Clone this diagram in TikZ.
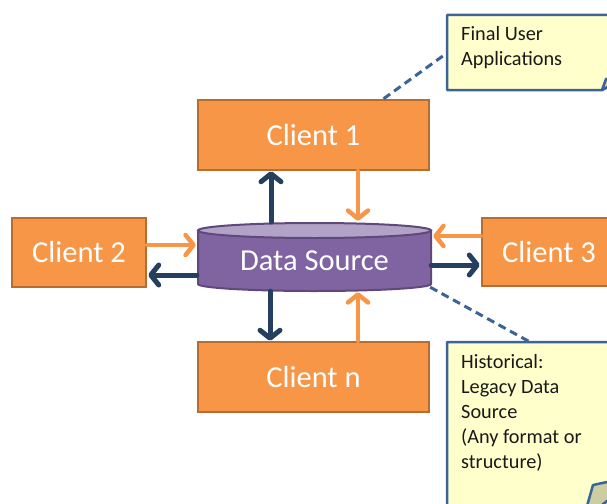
\documentclass[tikz,border=0pt]{standalone}
\usepackage{fontspec}
\setmainfont{Carlito}
\usetikzlibrary{arrows.meta,calc}
\definecolor{orng}{HTML}{F79646}
\definecolor{orngdk}{HTML}{B66D31}
\definecolor{navy}{HTML}{243F60}
\definecolor{purp}{HTML}{8064A2}
\definecolor{purplt}{HTML}{B3A2C7}
\definecolor{purpdk}{HTML}{5F497A}
\definecolor{notefill}{HTML}{FFFFCC}
\definecolor{noteline}{HTML}{3B6498}
\definecolor{foldfill}{HTML}{CDCDA4}
\begin{document}
\begin{tikzpicture}[x=1pt,y=-1pt,
  client/.style={draw=orngdk, fill=orng, line width=2.5pt, text=white,
    font=\fontsize{30.5}{36}\selectfont, inner sep=0pt},
  arrnavy/.style={draw=navy, line width=5pt, line cap=round,
    -{Straight Barb[length=8pt,width=20pt,round]}},
  arrorng/.style={draw=orng, line width=4.5pt, line cap=round,
    -{Straight Barb[length=8pt,width=20pt,round]}},
  note/.style={fill=notefill, draw=noteline, line width=2.5pt, line join=round},
  foldpart/.style={fill=foldfill, draw=noteline, line width=2.5pt, line join=round},
  notetext/.style={font=\fontsize{20.3}{25}\selectfont, align=left,
    anchor=north west, inner sep=0pt, text=black!90},
  link/.style={draw=noteline, line width=3pt, dash pattern=on 8pt off 5pt}]
\useasboundingbox (0,0) rectangle (607,503);
\clip (0,0) rectangle (607,503);
\fill[white] (0,0) rectangle (607,503);

% clients
\node[client, minimum width=231pt, minimum height=70pt] (c1) at (313.5,135) {Client 1};
\node[client, minimum width=134pt, minimum height=69pt] (c2) at (79,252.5) {Client 2};
\node[client, minimum width=134pt, minimum height=68pt] (c3) at (549,252) {Client 3};
\node[client, minimum width=231pt, minimum height=70pt] (cn) at (313.5,377) {Client n};

% data source cylinder
\path[fill=purp, draw=purpdk, line width=2pt] (198,230.5) -- (198,284)
  arc[start angle=180, end angle=360, x radius=116.5pt, y radius=7pt] -- (431,230.5) -- cycle;
\path[fill=purplt, draw=purpdk, line width=2pt] (314.5,230.5) ellipse [x radius=116.5pt, y radius=7.5pt];
\node[minimum width=233pt, minimum height=68pt, inner sep=0pt] (ds) at (314.5,257) {};
\node[text=white, font=\fontsize{30.5}{36}\selectfont, inner sep=0pt, yshift=-4pt] (dst) at (ds.center) {Data Source};

% callout anchors
\coordinate (n1) at (447,53);
\coordinate (n2) at (530,342);

% dashed links
\draw[link] ($(c1.north west)!0.8!(c1.north east)$) -- (n1);
\draw[link] ($(ds.south east)+(-1,-4)$) -- (n2);

% callouts
\path[note] (447,15) -- (630,15) -- (630,75) -- (602,90) -- (447,90) -- cycle;
\path[foldpart] (602,90) -- (606,79) -- (630,75) -- cycle;
\node[notetext] (t1) at (461,26) {Final User\\Applications};

\path[note] (447,342) -- (640,342) -- (640,475) -- (583,520) -- (447,520) -- cycle;
\path[foldpart] (583,520) -- (593,485) -- (640,475) -- cycle;
\node[notetext] (t2) at (461,354) {Historical:\\Legacy Data\\Source\\(Any format or\\structure)};

% arrows top
\draw[arrorng] ($(c1.south)+(44.5,0)$) -- ($(ds.north)+(43.5,-2)$);
\draw[arrnavy] ($(ds.north)+(-43.5,-1)$) -- ($(c1.south)+(-42.5,0)$);
% arrows bottom
\draw[arrnavy] ($(ds.south)+(-44.5,0)$) -- ($(cn.north)+(-43.5,0)$);
\draw[arrorng] ($(cn.north)+(44.5,0)$) -- ($(ds.south)+(43.5,1)$);
% arrows left
\draw[arrorng] ($(c2.east)+(0,-7.5)$) -- ($(ds.west)+(-2,-12)$);
\draw[arrnavy] ($(ds.west)+(-1,18)$) -- ($(c2.east)+(1,22.5)$);
% arrows right
\draw[arrorng] ($(c3.west)+(0,-16)$) -- ($(ds.east)+(2,-21)$);
\draw[arrnavy] ($(ds.east)+(0,8)$) -- ($(c3.west)+(-1,13)$);
\end{tikzpicture}
\end{document}
